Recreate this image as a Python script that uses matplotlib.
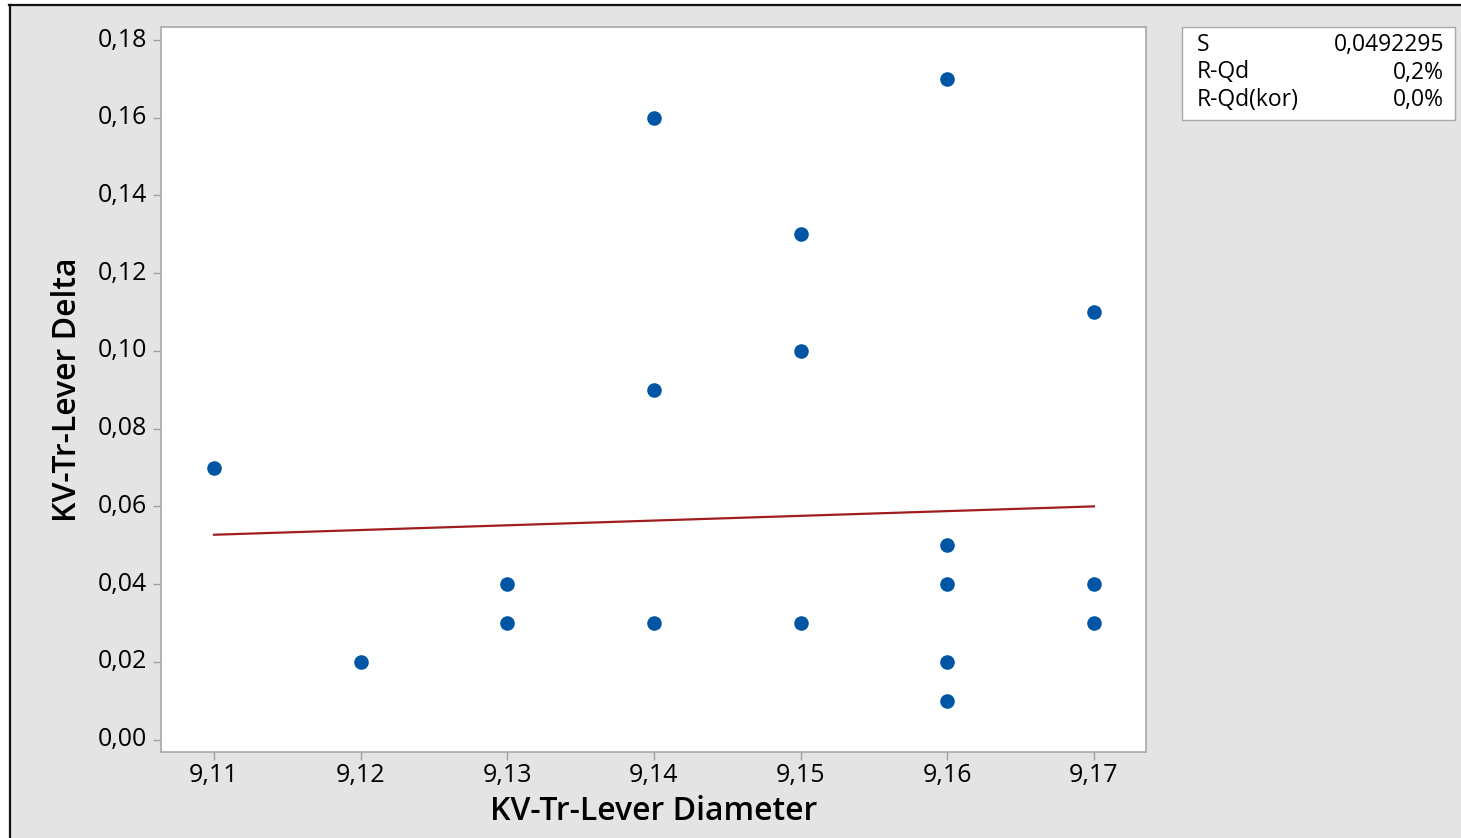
import matplotlib
matplotlib.use("Agg")
import matplotlib.pyplot as plt
import matplotlib.transforms as mtransforms
from matplotlib.lines import Line2D
from matplotlib.patches import Rectangle
import numpy as np

plt.rcParams['font.family'] = ['Open Sans', 'DejaVu Sans']

# Observations
diameter = [9.11, 9.12, 9.13, 9.13, 9.14, 9.14, 9.14, 9.15, 9.15, 9.15,
            9.16, 9.16, 9.16, 9.16, 9.16, 9.17, 9.17, 9.17]
delta = [0.07, 0.02, 0.04, 0.03, 0.16, 0.09, 0.03, 0.13, 0.10, 0.03,
         0.17, 0.05, 0.04, 0.02, 0.01, 0.11, 0.04, 0.03]

# Fitted regression line (ends of the fitted range)
fit_x = [9.11, 9.17]
fit_y = [0.0527, 0.0600]

# Model summary
summary_labels = ["S", "R-Qd", "R-Qd(kor)"]
summary_values = ["0,0492295", "0,2%", "0,0%"]

x_ticks = [9.11, 9.12, 9.13, 9.14, 9.15, 9.16, 9.17]
y_ticks = [0.00, 0.02, 0.04, 0.06, 0.08, 0.10, 0.12, 0.14, 0.16, 0.18]

W, H = 1461, 838
fig = plt.figure(figsize=(W / 100, H / 100), dpi=100)
fig.patch.set_facecolor("white")

# gray panel with black frame on top and left
bg = Rectangle((9 / W, 0), 1 - 9 / W, 1 - 5 / H, transform=fig.transFigure,
               facecolor="#E4E4E4", edgecolor="none", zorder=-10)
fig.add_artist(bg)
fig.add_artist(Line2D([9.5 / W, 9.5 / W], [0, 1 - 5 / H], transform=fig.transFigure,
                      color="#111111", lw=1.6, zorder=-5))
fig.add_artist(Line2D([9 / W, 1], [1 - 5 / H, 1 - 5 / H], transform=fig.transFigure,
                      color="#111111", lw=1.6, zorder=-5))

left, right, top, bottom = 161, 1146, 27, 752
ax = fig.add_axes([left / W, 1 - bottom / H, (right - left) / W, (bottom - top) / H])
ax.set_zorder(1)
ax.set_facecolor("white")

ax.plot(fit_x, fit_y, color="#A11D1D", lw=1.6, zorder=2)
ax.plot(diameter, delta, linestyle="none", marker="o", markersize=10.5,
        color="#0055A5", markeredgewidth=0, zorder=3)

ax.set_xlim(9.10639, 9.17355)
ax.set_ylim(-0.0032, 0.18335)
ax.set_xticks(x_ticks)
ax.set_yticks(y_ticks)
ax.set_xticklabels([f"{v:.2f}".replace(".", ",") for v in x_ticks], fontsize=18, fontweight=500)
ax.set_yticklabels([f"{v:.2f}".replace(".", ",") for v in y_ticks], fontsize=18, fontweight=500)
ax.tick_params(axis="both", color="#A0A0A0", length=6, width=1, labelcolor="#000000")
ax.tick_params(axis="x", pad=2)
ax.tick_params(axis="y", pad=4)

# nudge the value labels slightly upward
up = mtransforms.ScaledTranslation(0, 3 / 100, fig.dpi_scale_trans)
for lbl in ax.get_yticklabels():
    lbl.set_transform(lbl.get_transform() + up)

for s in ax.spines.values():
    s.set_color("#A8A8A8")
    s.set_linewidth(1.2)

ax.set_xlabel("KV-Tr-Lever Diameter", fontsize=23, fontweight="semibold", labelpad=5)
ax.set_ylabel("KV-Tr-Lever Delta", fontsize=23, fontweight="semibold", labelpad=10)

# summary box
bx0, by0, bx1, by1 = 1182, 27, 1455, 120
fig.add_artist(Rectangle((bx0 / W, 1 - by1 / H), (bx1 - bx0) / W, (by1 - by0) / H,
                         transform=fig.transFigure, facecolor="white",
                         edgecolor="#A8A8A8", lw=1.0, zorder=1))
for i, (lab, val) in enumerate(zip(summary_labels, summary_values)):
    yy = 1 - (45 + 27.5 * i) / H
    fig.text(1197 / W, yy, lab, fontsize=16.5, fontweight=500, va="center", ha="left",
             color="#000000", zorder=2)
    fig.text(1444 / W, yy, val, fontsize=16.5, fontweight=500, va="center", ha="right",
             color="#000000", zorder=2)

fig.savefig("out.png", dpi=100, facecolor=fig.get_facecolor())
